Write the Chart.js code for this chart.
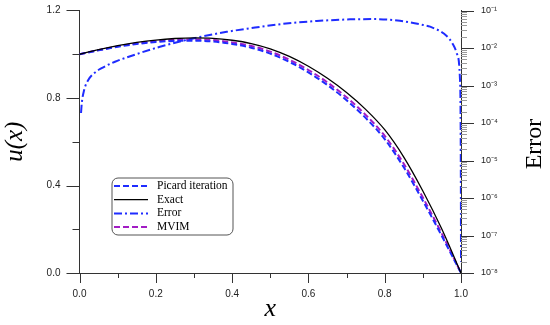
<!DOCTYPE html>
<html>
<head>
<meta charset="utf-8">
<script src="https://cdn.jsdelivr.net/npm/chart.js@4.4.0/dist/chart.umd.min.js"></script>
<style>
  body { margin: 0; background: #fff; }
  canvas { display: block; }
</style>
</head>
<body>
<canvas id="myChart" width="550" height="325"></canvas>
<script>
// x grid for the three solution curves
const xs = [0, 0.05, 0.1, 0.15, 0.2, 0.25, 0.3, 0.35, 0.4, 0.45, 0.5, 0.55, 0.6, 0.65, 0.7, 0.75, 0.8, 0.85, 0.9, 0.95, 1.0];
const exact  = [1.000, 1.021, 1.039, 1.054, 1.065, 1.072, 1.075, 1.073, 1.064, 1.049, 1.025, 0.990, 0.945, 0.890, 0.825, 0.748, 0.655, 0.530, 0.375, 0.200, 0.000];
const picard = [1.000, 1.018, 1.034, 1.047, 1.056, 1.061, 1.062, 1.058, 1.047, 1.030, 1.003, 0.965, 0.917, 0.859, 0.790, 0.709, 0.612, 0.483, 0.330, 0.168, 0.000];
const mvim   = [1.000, 1.019, 1.036, 1.050, 1.060, 1.066, 1.068, 1.065, 1.054, 1.038, 1.012, 0.975, 0.928, 0.871, 0.803, 0.723, 0.627, 0.499, 0.345, 0.179, 0.000];

// error curve (right log axis)
const errX = [0.004, 0.006, 0.012, 0.023, 0.04, 0.058, 0.093, 0.124, 0.211, 0.298, 0.386, 0.447, 0.534, 0.622, 0.709, 0.77, 0.84, 0.901, 0.919, 0.9625, 0.978, 0.989, 0.997, 0.999, 0.9997, 1.0];
const errY = [1.85e-4, 3.4e-4, 7.5e-4, 1.4e-3, 2.2e-3, 2.9e-3, 4.3e-3, 5.6e-3, 1.08e-2, 1.8e-2, 2.7e-2, 3.35e-2, 4.4e-2, 5.25e-2, 5.8e-2, 5.9e-2, 5.3e-2, 4.1e-2, 3.7e-2, 2.1e-2, 1.3e-2, 7.2e-3, 1.7e-3, 1e-4, 1e-6, 2e-8];

const errTicks = [1e-8, 1e-7, 1e-6, 1e-5, 1e-4, 1e-3, 1e-2, 1e-1];
const sup = { '-': '\u207B', '1': '\u00B9', '2': '\u00B2', '3': '\u00B3', '4': '\u2074', '5': '\u2075', '6': '\u2076', '7': '\u2077', '8': '\u2078', '9': '\u2079', '0': '\u2070' };

const legendLabels = ['Picard iteration', 'Exact', 'Error', 'MVIM'];

function pts(xv, yv) { return xv.map((x, i) => ({ x: x, y: yv[i] })); }

// tick marks, minor ticks, legend box, right title
const decorPlugin = {
  id: 'decor',
  afterDraw(chart) {
    const ctx = chart.ctx;
    const sx = chart.scales.x, sy = chart.scales.y, se = chart.scales.yErr;
    const area = chart.chartArea;
    ctx.save();
    ctx.lineWidth = 1;
    ctx.strokeStyle = '#333';
    ctx.beginPath();
    for (let i = 0; i <= 10; i++) {
      const p = Math.round(sx.getPixelForValue(i / 10)) + 0.5;
      ctx.moveTo(p, area.bottom);
      ctx.lineTo(p, area.bottom + (i % 2 === 0 ? 10 : 5));
    }
    for (let i = 0; i <= 6; i++) {
      const p = Math.round(sy.getPixelForValue(i * 0.2)) + 0.5;
      ctx.moveTo(area.left, p);
      ctx.lineTo(area.left - (i % 2 === 0 ? 13 : 7), p);
    }
    errTicks.forEach(v => {
      const p = Math.round(se.getPixelForValue(v)) + 0.5;
      ctx.moveTo(area.right, p);
      ctx.lineTo(area.right + 13, p);
    });
    ctx.stroke();
    ctx.strokeStyle = '#999';
    ctx.beginPath();
    for (let d = -8; d < -1; d++) {
      for (let k = 2; k <= 9; k++) {
        const p = Math.round(se.getPixelForValue(k * Math.pow(10, d))) + 0.5;
        ctx.moveTo(area.right, p);
        ctx.lineTo(area.right + 6, p);
      }
    }
    ctx.stroke();

    // right title
    ctx.fillStyle = '#000';
    ctx.font = '24px "Liberation Serif"';
    ctx.textAlign = 'center';
    ctx.textBaseline = 'middle';
    ctx.translate(535, 144);
    ctx.rotate(-Math.PI / 2);
    ctx.fillText('Error', 0, 0);
    ctx.restore();

    // legend
    ctx.save();
    const bx = 112, by = 178, bw = 121, bh = 57, r = 6;
    ctx.beginPath();
    ctx.moveTo(bx + r, by);
    ctx.arcTo(bx + bw, by, bx + bw, by + bh, r);
    ctx.arcTo(bx + bw, by + bh, bx, by + bh, r);
    ctx.arcTo(bx, by + bh, bx, by, r);
    ctx.arcTo(bx, by, bx + bw, by, r);
    ctx.closePath();
    ctx.fillStyle = '#fff';
    ctx.fill();
    ctx.strokeStyle = '#555';
    ctx.lineWidth = 1;
    ctx.stroke();
    const order = [1, 0, 2, 3];
    ctx.font = '11.5px "Liberation Serif"';
    ctx.textAlign = 'left';
    ctx.textBaseline = 'middle';
    order.forEach((di, row) => {
      const ds = chart.data.datasets[di];
      const y = 186 + row * 13.7;
      ctx.beginPath();
      ctx.setLineDash(ds.borderDash || []);
      ctx.strokeStyle = ds.borderColor;
      ctx.lineWidth = ds.borderWidth;
      ctx.moveTo(114, y);
      ctx.lineTo(148, y);
      ctx.stroke();
      ctx.setLineDash([]);
      ctx.fillStyle = '#000';
      ctx.fillText(ds.label, 157, y);
    });
    ctx.restore();
  }
};

const ctx = document.getElementById('myChart');
const myChart = new Chart(ctx, {
  type: 'line',
  data: {
    datasets: [
      {
        label: legendLabels[1],
        data: pts(xs, exact),
        yAxisID: 'y',
        borderColor: '#000000',
        borderWidth: 1.3,
      },
      {
        label: legendLabels[0],
        data: pts(xs, picard),
        yAxisID: 'y',
        borderColor: '#1f2cff',
        borderWidth: 2,
        borderDash: [6, 3],
      },
      {
        label: legendLabels[2],
        data: pts(errX, errY),
        yAxisID: 'yErr',
        borderColor: '#1f2cff',
        borderWidth: 2,
        borderDash: [8, 3, 2, 3],
      },
      {
        label: legendLabels[3],
        data: pts(xs, mvim),
        yAxisID: 'y',
        borderColor: '#a21cc4',
        borderWidth: 2,
        borderDash: [6, 3],
      },
    ],
  },
  options: {
    responsive: false,
    animation: false,
    devicePixelRatio: 1,
    layout: { padding: { top: 10.5, left: 0, right: 0, bottom: 0 } },
    elements: { point: { radius: 0 }, line: { cubicInterpolationMode: 'monotone' } },
    plugins: { legend: { display: false }, tooltip: { enabled: false } },
    scales: {
      x: {
        type: 'linear',
        min: 0, max: 1,
        grid: { display: false, drawTicks: false },
        border: { display: true, color: '#333', width: 1 },
        ticks: { stepSize: 0.2, padding: 15, color: '#222', font: { family: 'Liberation Sans', size: 10 }, callback: v => v.toFixed(1) },
        title: { display: true, text: 'x', color: '#000', font: { family: 'Liberation Serif', size: 26, style: 'italic' }, padding: { top: -4, bottom: 0 } },
        afterFit: s => { s.height = 52; s.paddingLeft = 0; s.paddingRight = 0; },
      },
      y: {
        position: 'left',
        min: 0, max: 1.2,
        grid: { display: false, drawTicks: false },
        border: { display: true, color: '#333', width: 1 },
        ticks: { stepSize: 0.4, padding: 19, color: '#222', font: { family: 'Liberation Sans', size: 10 }, callback: v => v.toFixed(1) },
        title: { display: true, text: 'u(x)', color: '#000', font: { family: 'Liberation Serif', size: 25, style: 'italic' }, padding: { top: 0, bottom: 0 } },
        afterFit: s => { s.width = 79.5; s.paddingTop = 0; s.paddingBottom = 0; },
      },
      yErr: {
        type: 'logarithmic',
        position: 'right',
        min: 1e-8, max: 1e-1,
        grid: { display: false, drawTicks: false },
        border: { display: true, color: '#333', width: 1 },
        afterBuildTicks: s => { s.ticks = errTicks.map(v => ({ value: v })); },
        ticks: {
          padding: 20, color: '#222', font: { family: 'Liberation Sans', size: 9 },
          callback: v => '10' + String(Math.round(Math.log10(v))).split('').map(c => sup[c]).join('')
        },
        afterFit: s => { s.width = 89; s.paddingTop = 0; s.paddingBottom = 0; },
      },
    },
  },
  plugins: [decorPlugin],
});
</script>
</body>
</html>
